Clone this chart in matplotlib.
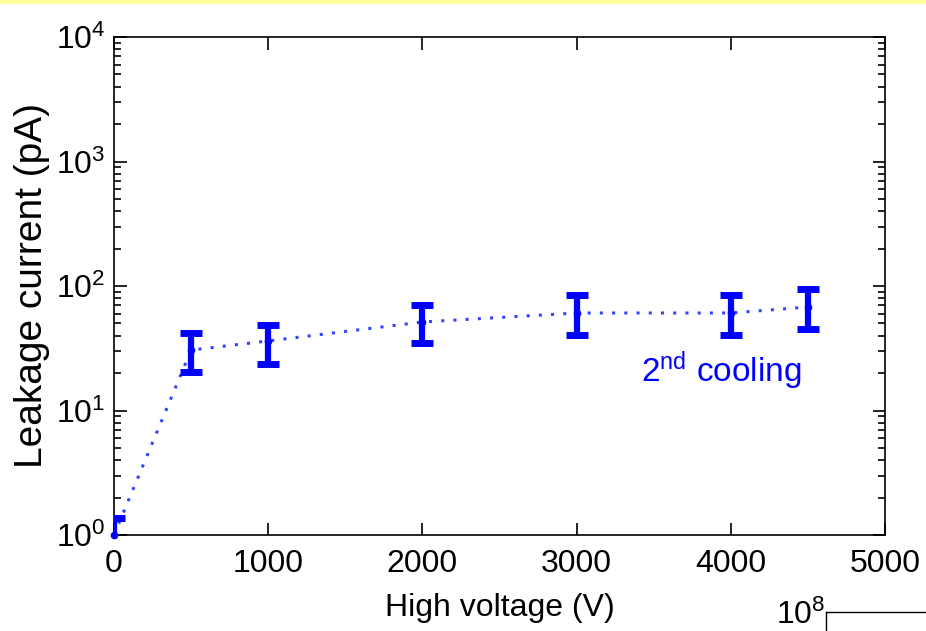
import matplotlib
matplotlib.use("Agg")
import matplotlib.pyplot as plt
import numpy as np
from matplotlib.ticker import LogLocator, FixedLocator, NullFormatter

plt.rcParams['font.family'] = ['Liberation Sans', 'DejaVu Sans']
plt.rcParams['mathtext.fontset'] = 'custom'
plt.rcParams['mathtext.rm'] = 'Liberation Sans'
plt.rcParams['mathtext.it'] = 'Liberation Sans'

voltage = [0, 500, 1000, 2000, 3000, 4000, 4500]
current = [1.0, 30.6, 36.2, 51.4, 60.7, 60.7, 67.8]
err_low = [0.8, 20.4, 23.6, 34.8, 40.4, 40.4, 45.1]
err_high = [1.37, 41.9, 48.6, 70.4, 84.7, 84.7, 94.6]
x_ticks = [0, 1000, 2000, 3000, 4000, 5000]
y_ticks = [1, 10, 100, 1000, 10000]
y_labels = ['$10^{0}$', '$10^{1}$', '$10^{2}$', '$10^{3}$', '$10^{4}$']

W, H = 926, 631
fig = plt.figure(figsize=(W / 100, H / 100), dpi=100)
ax = fig.add_axes([114 / W, 1 - 535 / H, (885 - 114) / W, (535 - 37) / H])

cur = np.array(current)
yerr = np.vstack([cur - np.array(err_low), np.array(err_high) - cur])
ax.plot(voltage, current, linestyle=(0, (1, 3)), color='#3344ff', lw=2.2, zorder=2)
eb = ax.errorbar(voltage, current, yerr=yerr, fmt='o', color='#0000ff', ms=4.5,
                 elinewidth=4.5, capsize=8, capthick=5, zorder=3)
eb[0].set_clip_on(False)

ax.set_yscale('log')
ax.set_xlim(0, 5000)
ax.set_ylim(1, 10000)
ax.xaxis.set_major_locator(FixedLocator(x_ticks))
ax.set_xticklabels([str(v) for v in x_ticks])
ax.yaxis.set_major_locator(FixedLocator(y_ticks))
ax.set_yticklabels(y_labels)
ax.yaxis.set_minor_locator(LogLocator(base=10, subs=np.arange(2, 10)))
ax.yaxis.set_minor_formatter(NullFormatter())
ax.tick_params(which='both', direction='in', top=True, right=True, labelsize=23, width=1.2)
ax.tick_params(which='major', length=9)
ax.tick_params(axis='x', which='major', pad=10)
ax.tick_params(axis='y', which='major', pad=6)
ax.tick_params(which='minor', length=5)
for s in ax.spines.values():
    s.set_linewidth(1.2)

ax.set_xlabel('High voltage (V)', fontsize=23, labelpad=10)
ax.set_ylabel('Leakage current (pA)', fontsize=28, labelpad=4)

ax.text(3420, 21, '2$^{\\mathrm{nd}}$ cooling', color='#0000ff', fontsize=24,
        ha='left', va='center')

# yellow band at top
fig.add_artist(plt.Rectangle((0, 1 - 4 / H), 1, 4 / H, transform=fig.transFigure,
                             color='#ffff99', lw=0))

# partial next subplot at bottom right
ax2 = fig.add_axes([826 / W, -0.2, 0.5, 0.2 + (631 - 612) / H])
ax2.set_xticks([])
ax2.set_yticks([])
for s in ax2.spines.values():
    s.set_linewidth(1.0)
fig.text(776 / W, 1 - 615 / H, '$10^{8}$', fontsize=23, ha='left', va='center')

fig.savefig('out.png', dpi=100)
